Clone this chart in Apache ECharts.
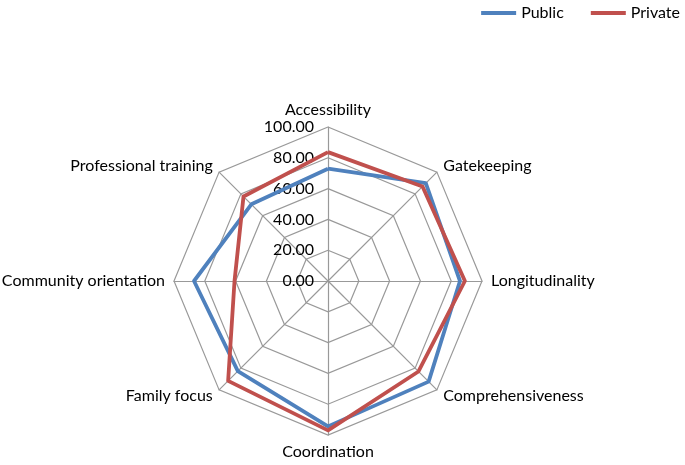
<!DOCTYPE html>
<html><head><meta charset="utf-8">
<script src="https://cdn.jsdelivr.net/npm/echarts@6/dist/echarts.min.js"></script>
<style>html,body{margin:0;padding:0;background:#fff}#c{width:685px;height:465px}</style>
</head><body><div id="c"></div>
<script>
var categories = ["Accessibility","Gatekeeping","Longitudinality","Comprehensiveness","Coordination","Family focus","Community orientation","Professional training"];
var publicValues = [72.9, 89.8, 85.7, 92.4, 94.4, 82.8, 87.0, 70.4];
var privateValues = [83.7, 86.8, 88.9, 83.1, 97.0, 91.7, 60.7, 77.6];
var seriesNames = ["Public","Private"];
var colors = ["#4F81BD","#C0504D"];
var FONT = "Lato";
// ECharts radar runs counter-clockwise; reorder so categories run clockwise from the top
function cw(arr){ return [arr[0]].concat(arr.slice(1).reverse()); }
var chart = echarts.init(document.getElementById('c'));
chart.setOption({
  animation:false,
  textStyle:{fontFamily:FONT},
  legend:{
    data:seriesNames, right:0, top:0, icon:'rect', itemWidth:35, itemHeight:4, itemGap:27,
    textStyle:{fontFamily:FONT,fontSize:16,color:'#000'}
  },
  radar:{
    center:[328,281], radius:154, startAngle:90, shape:'polygon', splitNumber:5,
    nameGap:9,
    axisName:{color:'#000',fontFamily:FONT,fontSize:16},
    splitLine:{lineStyle:{color:'#999',width:1.2}},
    splitArea:{show:false},
    axisLine:{lineStyle:{color:'#999',width:1.2}},
    axisLabel:{show:false},
    indicator:cw(categories).map(function(n,i){
      var o={name:n,min:0,max:100};
      if(i===0){o.axisLabel={show:true,color:'#000',fontFamily:FONT,fontSize:16,margin:14,formatter:function(v){return v.toFixed(2);}};}
      return o;
    })
  },
  series:[{
    type:'radar', symbol:'none',
    data:[
      {name:seriesNames[0],value:cw(publicValues),lineStyle:{color:colors[0],width:3.8},itemStyle:{color:colors[0]}},
      {name:seriesNames[1],value:cw(privateValues),lineStyle:{color:colors[1],width:3.8},itemStyle:{color:colors[1]}}
    ]
  }]
});
</script></body></html>
